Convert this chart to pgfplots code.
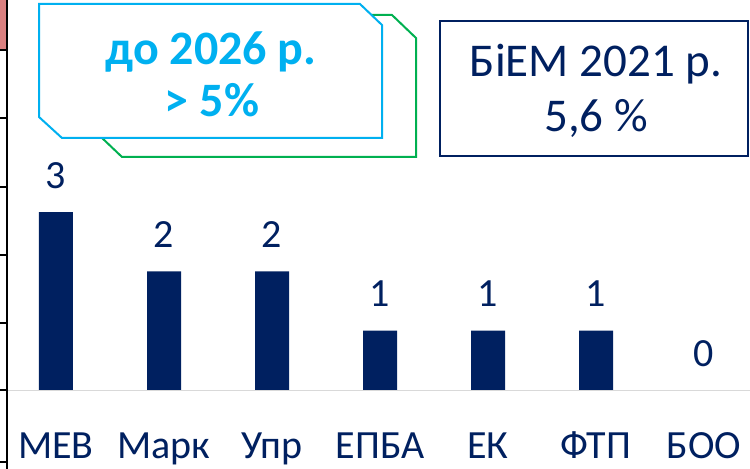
\documentclass[border=0pt]{standalone}
\usepackage{pgfplots}
\pgfplotsset{compat=1.18}
\usepackage{fontspec}
\setmainfont{Carlito}
\definecolor{navy}{HTML}{002060}
\definecolor{cyanb}{HTML}{00B0F0}
\definecolor{greenb}{HTML}{00B050}
\definecolor{pinkr}{HTML}{DA8080}
\definecolor{lgray}{HTML}{D9D9D9}
\begin{document}
\begin{tikzpicture}
\useasboundingbox (0,0) rectangle (750bp,469bp);
\begin{axis}[scale only axis, width=750bp, height=469bp, at={(0,0)}, anchor=south west,
 xmin=-0.5185, xmax=6.4259, ymin=-1.332, ymax=6.577,
 /pgf/number format/assume math mode=true,
 axis line style={draw=none}, major tick length=0pt, ytick=\empty,
 xtick={0,...,6}, xticklabels={МЕВ,Марк,Упр,ЕПБА,ЕК,ФТП,БОО},
 xticklabel style={anchor=base, yshift=11bp, font=\fontsize{40bp}{48bp}\selectfont, text=navy},
 ybar, bar width=34bp,
 nodes near coords,
 nodes near coords style={anchor=base, yshift=24bp, font=\fontsize{40bp}{48bp}\selectfont, text=navy},
 clip=false]
\addplot[fill=navy, draw=none] coordinates {(0,3)(1,2)(2,2)(3,1)(4,1)(5,1)(6,0)};
\end{axis}
\begin{scope}[shift={(current axis.north west)}, x=1bp, y=-1bp]
\fill[pinkr] (0,0) rectangle (6,50);
\draw[black, line width=2.2bp] (6.8,0) -- (6.8,469);
\foreach \yy in {50,118,187,255,323,390,462} \draw[black, line width=1.6bp] (0,\yy) -- (7.5,\yy);
\draw[lgray, line width=1.5bp] (8,390.5) -- (750,390.5);
\draw[greenb, line width=2bp] (101,15) -- (392,15) -- (416,38) -- (416,157) -- (122,157) -- (101,137) -- cycle;
\draw[cyanb, line width=2bp, fill=white] (39,4) -- (360,4) -- (382,25) -- (382,138) -- (62,138) -- (39,117) -- cycle;
\node[anchor=base, text=cyanb, font=\fontsize{48bp}{56bp}\selectfont\bfseries] at (211,65) {до 2026 р.};
\node[anchor=base, text=cyanb, font=\fontsize{48bp}{56bp}\selectfont\bfseries] at (212,117) {> 5\%};
\draw[navy, line width=1.6bp, fill=white] (440,21) rectangle (748,156);
\node[anchor=base, text=navy, font=\fontsize{47bp}{56bp}\selectfont] at (596,77) {БіЕМ 2021 р.};
\node[anchor=base, text=navy, font=\fontsize{47bp}{56bp}\selectfont] at (596,132) {5,6 \%};
\end{scope}
\end{tikzpicture}
\end{document}
